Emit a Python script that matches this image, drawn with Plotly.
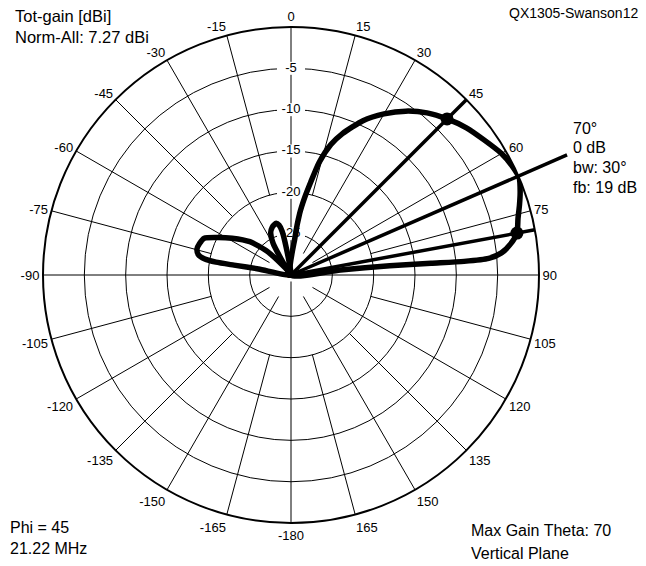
import numpy as np
import plotly.graph_objects as go

# ---------------- data ----------------
# main lobe (theta in degrees, gain in dB relative to max)
main_theta = [3, 6, 8, 10, 12, 14, 17, 20, 25, 30, 35, 40, 45, 50, 55, 60, 64, 67,
              70, 73, 76, 79.5, 82, 84, 85.2, 85.5, 85.2, 84.6, 84.2, 84.0]
main_gain = [-30, -25.5, -22.5, -20.5, -18.5, -16, -13.5, -11.8, -9.4, -7.5, -5.8, -4.4,
             -3.3, -2.3, -1.5, -0.6, -0.15, 0.0, -0.5, -1.1, -1.7, -2.2, -3.2, -4.4,
             -6.0, -9.0, -13.0, -18.0, -24.0, -30]
# back lobe
back_theta = [-78.5, -79.5, -80.2, -80.3, -79.5, -77.5, -74.5, -71, -67, -63, -58, -51, -45, -40]
back_gain = [-30, -26, -23, -20.8, -19.4, -18.5, -18.2, -18.3, -18.6, -20.0, -21.6, -23.6, -26, -30]
# small lobe near -15
minor_theta = [-33.5, -29.5, -25.5, -21.5, -18.5, -16, -13.5, -11.5, -10, -8.5]
minor_gain = [-30, -25.6, -24.3, -23.8, -23.6, -23.5, -23.8, -24.6, -26.5, -30]

peak_theta = 66.5
bw_theta = [45, 79.5]
bw_gain = [-3.3, -2.2]

ring_values = [-5, -10, -15, -20, -25, -30]
ring_labels = ["-5", "-10", "-15", "-20", "-25", "-30"]
angle_ticks = list(range(0, 360, 15))
angle_labels = ["0", "15", "30", "45", "60", "75", "90", "105", "120", "135", "150", "165",
                "-180", "-165", "-150", "-135", "-120", "-105", "-90", "-75", "-60", "-45",
                "-30", "-15"]

# ---------------- geometry ----------------
W, H = 646, 566
cx, cy, R = 291, 275, 248
RMIN, RMAX = -30, 0
FONT = "Liberation Sans, Arial, sans-serif"

fig = go.Figure()

# spokes with varying inner start
sp_t, sp_r = [], []
for a in angle_ticks:
    if a % 90 == 0:
        start = -30
    elif a % 30 == 0:
        start = -27
    else:
        start = -20
    sp_t += [a, a, None]
    sp_r += [start, 0, None]
fig.add_trace(go.Scatterpolar(theta=sp_t, r=sp_r, mode="lines",
                              line=dict(color="black", width=1), hoverinfo="skip",
                              showlegend=False, connectgaps=False))

# ring labels with white background
fig.add_trace(go.Scatterpolar(theta=[0] * len(ring_values), r=ring_values,
                              mode="markers+text", text=ring_labels,
                              textposition="middle center",
                              textfont=dict(family=FONT, size=13, color="black"),
                              marker=dict(symbol="line-ew", size=20,
                                          line=dict(color="white", width=13)),
                              hoverinfo="skip", showlegend=False))

# pattern
pat_t = back_theta + [None] + minor_theta + [None] + main_theta
pat_r = back_gain + [None] + minor_gain + [None] + main_gain
fig.add_trace(go.Scatterpolar(theta=pat_t, r=pat_r, mode="lines",
                              line=dict(color="black", width=5.5, shape="spline", smoothing=0.6),
                              hoverinfo="skip", showlegend=False, connectgaps=False))

# beamwidth and max-gain lines
bl_t, bl_r = [], []
for a in bw_theta + [peak_theta]:
    bl_t += [a, a, None]
    bl_r += [RMIN, RMAX, None]
fig.add_trace(go.Scatterpolar(theta=bl_t, r=bl_r, mode="lines",
                              line=dict(color="black", width=3.5), hoverinfo="skip",
                              showlegend=False, connectgaps=False))
fig.add_trace(go.Scatterpolar(theta=bw_theta, r=bw_gain, mode="markers",
                              marker=dict(color="black", size=13), hoverinfo="skip",
                              showlegend=False))

# extension of the max-gain line beyond the outer circle
ang = np.deg2rad(peak_theta)
r_ext = 301
x0p, y0p = cx + R * np.sin(ang), cy - R * np.cos(ang)
x1p, y1p = cx + r_ext * np.sin(ang), cy - r_ext * np.cos(ang)
fig.add_shape(type="line", xref="paper", yref="paper",
              x0=x0p / W, y0=1 - y0p / H, x1=x1p / W, y1=1 - y1p / H,
              line=dict(color="black", width=3.5))

fig.update_layout(
    width=W, height=H, margin=dict(l=0, r=0, t=0, b=0),
    paper_bgcolor="white", plot_bgcolor="white",
    font=dict(family=FONT, color="black"),
    polar=dict(
        domain=dict(x=[(cx - R) / W, (cx + R) / W], y=[1 - (cy + R) / H, 1 - (cy - R) / H]),
        bgcolor="white",
        radialaxis=dict(range=[RMIN, RMAX], tickvals=ring_values[:-1], showticklabels=False,
                        showgrid=True, gridcolor="black", gridwidth=1, showline=False,
                        ticks=""),
        angularaxis=dict(rotation=90, direction="clockwise", tickvals=angle_ticks,
                         ticktext=angle_labels, showgrid=False, showline=True,
                         linecolor="black", linewidth=2, ticks="",
                         tickfont=dict(family=FONT, size=13, color="black")),
    ),
)

def ann(text, x, y, xanchor="left", size=16):
    fig.add_annotation(text=text, xref="paper", yref="paper", x=x / W, y=1 - y / H,
                       xanchor=xanchor, yanchor="middle", showarrow=False,
                       font=dict(family=FONT, size=size, color="black"))

ann("Tot-gain [dBi]", 13, 16, size=16.5)
ann("Norm-All: 7.27 dBi", 13, 37, size=16.5)
ann("QX1305-Swanson12", 640, 13, xanchor="right", size=14)
ann("70°", 571, 128)
ann("0 dB", 571, 147)
ann("bw: 30°", 571, 167)
ann("fb: 19 dB", 571, 187)
ann("Phi = 45", 8, 527)
ann("21.22 MHz", 8, 548)
ann("Max Gain Theta: 70", 469, 530)
ann("Vertical Plane", 469, 553)

fig.write_html("out.html", config={"displayModeBar": False},
               post_script="document.body.style.margin='0px';document.body.style.overflow='hidden';")
